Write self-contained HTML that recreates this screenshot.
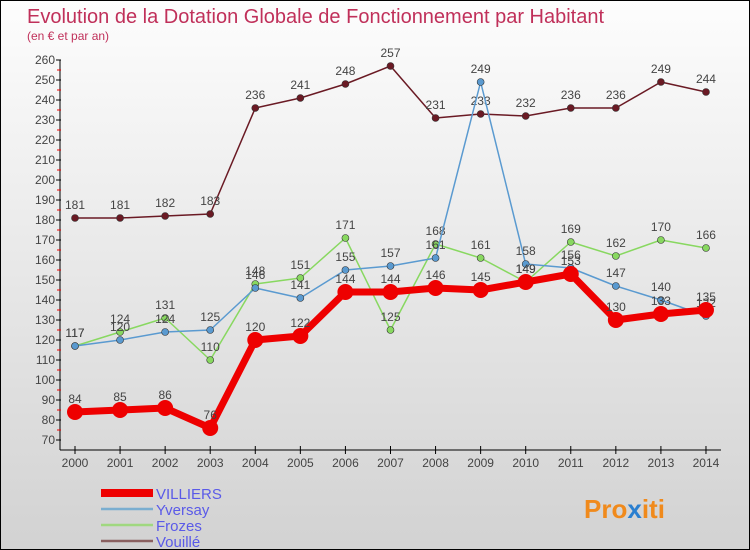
<!DOCTYPE html>
<html><head><meta charset="utf-8"><style>
body{margin:0}
#c{width:750px;height:550px;position:relative;box-sizing:border-box;border:1px solid #000;background:linear-gradient(#fdfdfd,#d2d2d2);font-family:"Liberation Sans",sans-serif;overflow:hidden}
</style></head><body>
<div id="c">
<svg id="s" width="748" height="548" xmlns="http://www.w3.org/2000/svg">
<text x="26" y="22" font-size="20" fill="#c0305a">Evolution de la Dotation Globale de Fonctionnement par Habitant</text>
<text x="26" y="39" font-size="12" fill="#c0305a">(en € et par an)</text>
<g id="axes"></g><g id="series"></g><g id="legend"></g>
<text x="583" y="517" font-size="26" font-weight="bold" fill="#f08a1c">Pro<tspan fill="#2a7fd0">x</tspan>iti</text>
</svg></div>
<script>
const years=[2000,2001,2002,2003,2004,2005,2006,2007,2008,2009,2010,2011,2012,2013,2014];
const villiers=[84,85,86,76,120,122,144,144,146,145,149,153,130,133,135];
const yversay=[117,120,124,125,146,141,155,157,161,249,158,156,147,140,132];
const frozes=[117,124,131,110,148,151,171,125,168,161,149,169,162,170,166];
const vouille=[181,181,182,183,236,241,248,257,231,233,232,236,236,249,244];
const yTicks=[70,80,90,100,110,120,130,140,150,160,170,180,190,200,210,220,230,240,250,260];
const NS="http://www.w3.org/2000/svg";
const X=i=>74+i*45.07, Y=v=>439-(v-70)*2;
function el(t,a,p){const e=document.createElementNS(NS,t);for(const k in a)e.setAttribute(k,a[k]);p.appendChild(e);return e;}
const ax=document.getElementById('axes');
let l=el('line',{x1:59,y1:59,x2:59,y2:449,stroke:'#000'},ax);
l=el('line',{x1:59,y1:449,x2:720,y2:449,stroke:'#000'},ax);
yTicks.forEach(v=>{el('line',{x1:55,y1:Y(v),x2:60,y2:Y(v),stroke:'#000'},ax);if(v<260)el('line',{x1:56,y1:Y(v+5),x2:60,y2:Y(v+5),stroke:'#e00'},ax);
const t=el('text',{x:54,y:Y(v)+4,'font-size':12,fill:'#444','text-anchor':'end'},ax);t.textContent=v;});
years.forEach((y,i)=>{el('line',{x1:X(i),y1:445,x2:X(i),y2:453,stroke:'#000'},ax);
const t=el('text',{x:X(i),y:466,'font-size':12,fill:'#444','text-anchor':'middle'},ax);t.textContent=y;});
const sg=document.getElementById('series');
const defs=[['vouille',vouille,'#6a1a24',1.5,3.5],['frozes',frozes,'#88d860',1.5,3.5],['yversay',yversay,'#5a9ad0',1.5,3.5],['villiers',villiers,'#ee0000',7,8]];
defs.forEach(([n,d,c,w,r])=>{const g=el('g',{},sg);
const p=el('polyline',{points:d.map((v,i)=>X(i)+','+Y(v)).join(' '),fill:'none',stroke:c,'stroke-width':w,'stroke-linejoin':'round'},g);
d.forEach((v,i)=>{const m=el('circle',{cx:X(i),cy:Y(v),r:r,fill:c,stroke:n==='villiers'?'none':'#333','stroke-width':0.6},g);
const t=el('text',{x:X(i),y:Y(v)-9,'font-size':12,fill:'#444','text-anchor':'middle'},g);t.textContent=v;});});
const lg=document.getElementById('legend');
[['VILLIERS','#ee0000',8],['Yversay','#7aaed0',2.5],['Frozes','#a0d880',2.5],['Vouillé','#8a6060',2.5]].forEach(([n,c,w],i)=>{const y=492+i*16;
const g=el('g',{},lg);
el('line',{x1:100,y1:y,x2:152,y2:y,stroke:c,'stroke-width':w},g);
const t=el('text',{x:155,y:y+6,'font-size':15,fill:'#5a5ae8'},g);t.textContent=n;});
</script></body></html>
